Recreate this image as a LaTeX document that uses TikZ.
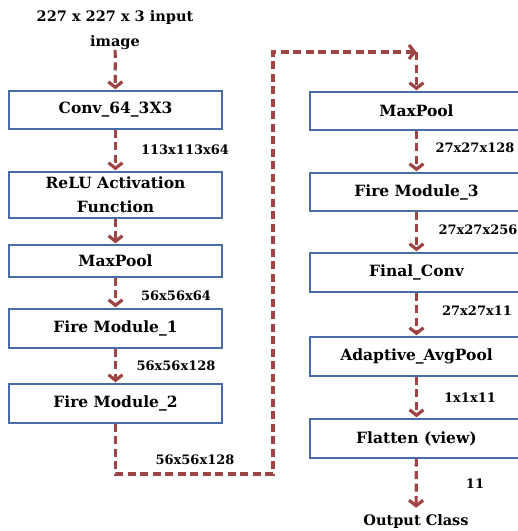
\documentclass[tikz,border=0pt]{standalone}
\usepackage{fontspec}
\setmainfont{DejaVu Serif}
\usetikzlibrary{arrows.meta}

\definecolor{flowred}{RGB}{158,68,68}
\definecolor{boxblue}{RGB}{72,108,168}

\tikzset{
  layer/.style={draw=boxblue, line width=1.4pt, minimum width=213pt, inner sep=0pt,
    align=center, font=\fontsize{15.5}{24}\selectfont\bfseries},
  dim/.style={font=\fontsize{13}{15}\selectfont\bfseries, inner sep=0pt},
  flow/.style={draw=flowred, line width=3.2pt, dash pattern=on 8pt off 4.5pt,
    -{Straight Barb[length=5.5pt,width=14pt]}, shorten >=1pt}
}

\begin{document}
\begin{tikzpicture}[x=1pt,y=-1pt]
   \clip (0,0) rectangle (518,531);

   \node[dim, font=\fontsize{14.5}{25}\selectfont\bfseries, align=center] (input) at (115,30) {227 x 227 x 3 input\\image};

   % left column
   \node[layer, minimum height=38pt] (conv) at (115.5,110) {Conv\_64\_3X3};
   \node[layer, minimum height=46pt] (relu) at (115.5,195) {ReLU Activation\\Function};
   \node[layer, minimum height=32pt] (pool1) at (115.5,261) {MaxPool};
   \node[layer, minimum height=39pt] (fire1) at (115.5,328.5) {Fire Module\_1};
   \node[layer, minimum height=39pt] (fire2) at (115.5,403.5) {Fire Module\_2};

   % right column
   \node[layer, minimum height=38pt] (pool2) at (416.5,111) {MaxPool};
   \node[layer, minimum height=38pt] (fire3) at (416.5,192) {Fire Module\_3};
   \node[layer, minimum height=39pt] (final) at (416.5,272.5) {Final\_Conv};
   \node[layer, minimum height=39pt] (avg) at (416.5,356.5) {Adaptive\_AvgPool};
   \node[layer, minimum height=39pt] (flat) at (416.5,438.5) {Flatten (view)};
   \node[dim, font=\fontsize{14.5}{17}\selectfont\bfseries] (out) at (416,521) {Output Class};

   % sizes between the layers
   \node[dim] (d1) at (185,150) {113x113x64};
   \node[dim] (d2) at (176,296) {56x56x64};
   \node[dim] (d3) at (176,366) {56x56x128};
   \node[dim] (d4) at (195,460) {56x56x128};
   \node[dim] (d5) at (475,148) {27x27x128};
   \node[dim] (d6) at (478,230) {27x27x256};
   \node[dim] (d7) at (477,311) {27x27x11};
   \node[dim] (d8) at (470,398) {1x1x11};
   \node[dim] (d9) at (475,484) {11};

   \coordinate (down) at (115.5,474);
   \coordinate (right) at (273,474);
   \coordinate (up) at (273,52);
   \coordinate (turn) at (416.5,52);

   \draw[flow] (input) -- (conv);
   \draw[flow] (conv) -- (relu);
   \draw[flow] (relu) -- (pool1);
   \draw[flow] (pool1) -- (fire1);
   \draw[flow] (fire1) -- (fire2);
   \draw[flow, shorten >=0pt] (fire2.south) -- (down) -- (right) -- (up) -- (turn);
   \draw[flow] (turn) -- (pool2);
   \draw[flow] (pool2) -- (fire3);
   \draw[flow] (fire3) -- (final);
   \draw[flow] (final) -- (avg);
   \draw[flow] (avg) -- (flat);
   \draw[flow, shorten >=6pt] (flat) -- (out);
\end{tikzpicture}
\end{document}
